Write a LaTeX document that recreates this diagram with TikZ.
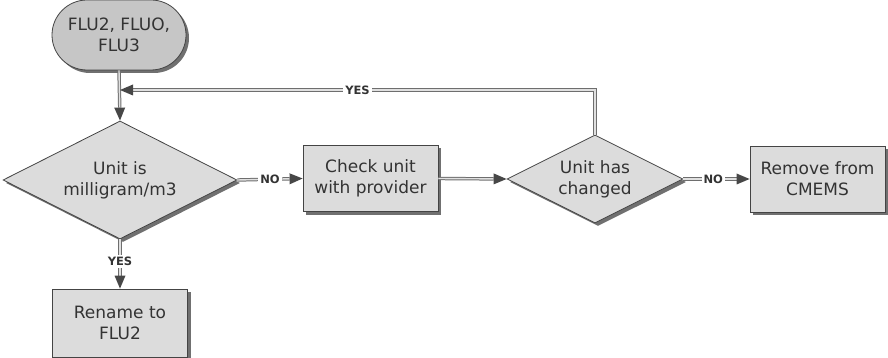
\documentclass[tikz,border=0pt]{standalone}
\usepackage{fontspec}
\setmainfont{DejaVu Sans}
\usetikzlibrary{shapes.geometric,shadows,arrows.meta}

\definecolor{edgegray}{HTML}{444444}
\definecolor{txtgray}{HTML}{333333}
\definecolor{boxfill}{HTML}{DCDCDC}
\definecolor{termfill}{HTML}{C6C6C6}
\definecolor{linkouter}{HTML}{6E6E6E}
\definecolor{linkinner}{HTML}{E0E0E0}

\tikzset{
  base/.style={draw=edgegray, line width=0.8pt, text=txtgray, font=\fontsize{17}{21}\selectfont,
    align=center, inner sep=0pt,
    drop shadow={shadow xshift=3pt, shadow yshift=-3pt, fill=black!75, opacity=0.75}},
  terminal/.style={base, fill=termfill, rounded corners=35pt, minimum width=134pt, minimum height=70pt},
  procbox/.style={base, fill=boxfill, minimum width=135pt, minimum height=66pt},
  decision/.style={base, fill=boxfill, diamond, aspect=2},
  link/.style={draw=linkouter, double=linkinner, double distance=1.4pt, line width=1pt,
    -{Triangle[length=13pt,width=11pt,color=black!72,line width=0pt]}},
  tag/.style={fill=white, text=txtgray, font=\fontsize{11.5}{14}\selectfont\bfseries, inner sep=2pt}
}

\begin{document}
\begin{tikzpicture}[x=1pt,y=-1pt]
  \useasboundingbox (0,0) rectangle (888,358);

  % nodes
  \node[terminal] (start) at (119,35) {FLU2, FLUO,\\FLU3};
  \node[decision, minimum width=234pt, minimum height=118pt] (unit) at (120,180) {Unit is\\milligram/m3};
  \node[procbox] (check) at (370.5,178.5) {Check unit\\with provider};
  \node[decision, minimum width=176pt, minimum height=88pt] (changed) at (595,179) {Unit has\\changed};
  \node[procbox] (remove) at (817.5,179) {Remove from\\CMEMS};
  \node[procbox, minimum height=68pt] (rename) at (120,323) {Rename to\\FLU2};

  % loop joint on the entry line
  \coordinate (join) at (120,90);

  % connectors
  \draw[link] (start.south) -- (unit.north);
  \draw[link] (changed.north) |- node[tag, pos=0.75] {YES} (join);
  \draw[link] (unit.east) -- node[tag, pos=0.5] {NO} (check.west);
  \draw[link] (check.east) -- (changed.west);
  \draw[link] (changed.east) -- node[tag, pos=0.45] {NO} (remove.west);
  \draw[link] (unit.south) -- node[tag, pos=0.45] {YES} (rename.north);
\end{tikzpicture}
\end{document}
